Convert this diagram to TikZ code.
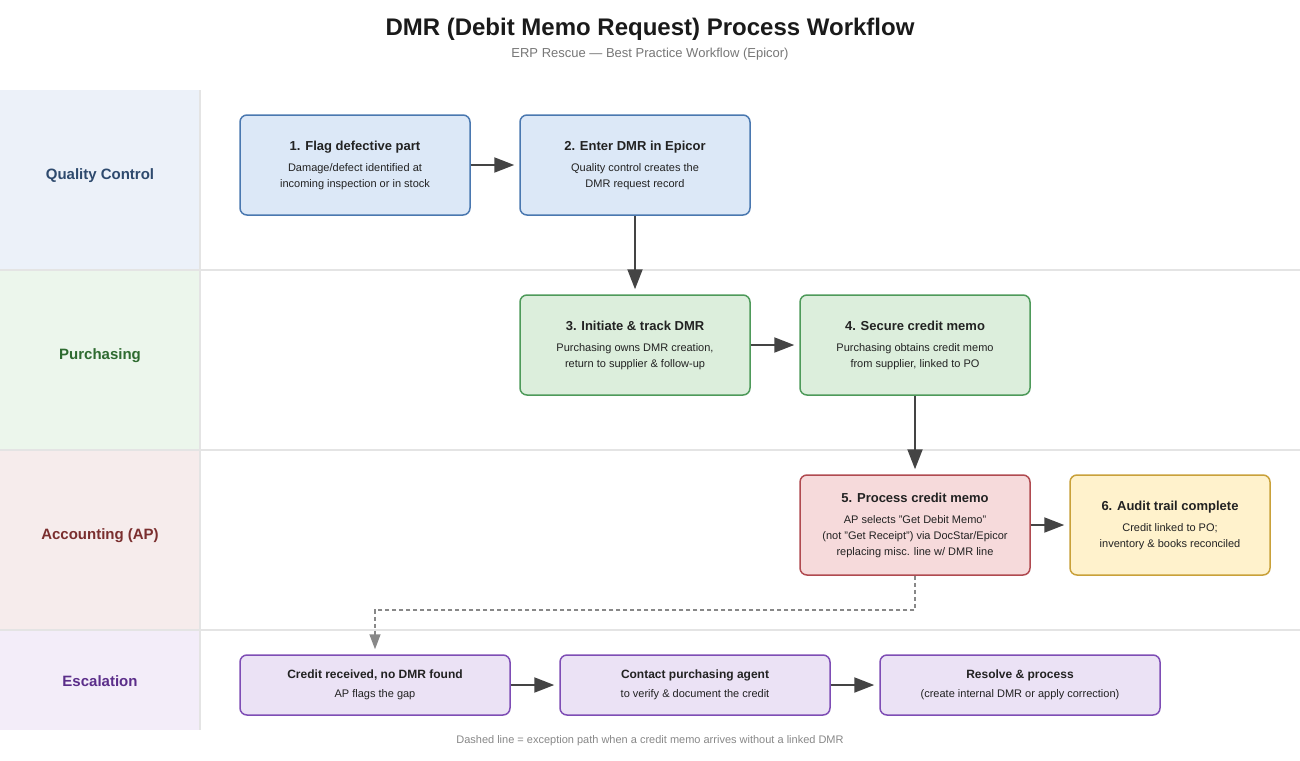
\documentclass[tikz,border=0pt]{standalone}
\usepackage{fontspec}
\setmainfont{Liberation Sans}
\usetikzlibrary{arrows.meta}
\definecolor{laneQC}{HTML}{ECF1F9}
\definecolor{lanePU}{HTML}{ECF6EC}
\definecolor{laneAC}{HTML}{F6ECEC}
\definecolor{laneES}{HTML}{F3EDF9}
\definecolor{sepline}{HTML}{E4E4E4}
\definecolor{txtQC}{HTML}{2E4A6E}
\definecolor{txtPU}{HTML}{2E6B30}
\definecolor{txtAC}{HTML}{7A2E2E}
\definecolor{txtES}{HTML}{5B2E8A}
\definecolor{fillB}{HTML}{DCE8F7}
\definecolor{drawB}{HTML}{4A78B0}
\definecolor{fillG}{HTML}{DCEEDC}
\definecolor{drawG}{HTML}{4E9A5A}
\definecolor{fillR}{HTML}{F6DADB}
\definecolor{drawR}{HTML}{B04A50}
\definecolor{fillY}{HTML}{FFF2CC}
\definecolor{drawY}{HTML}{C9A13A}
\definecolor{fillP}{HTML}{EBE2F5}
\definecolor{drawP}{HTML}{7E4DB5}
\definecolor{arr}{HTML}{444444}
\definecolor{dash}{HTML}{888888}
\definecolor{titletxt}{HTML}{1A1A1A}
\definecolor{subtxt}{HTML}{777777}
\definecolor{bodytxt}{HTML}{222222}
\tikzset{
  lanelabel/.style={font=\fontsize{15}{18}\selectfont\bfseries},
  stepbox/.style={rounded corners=7pt, line width=1.5pt, align=center,
     text=bodytxt, font=\fontsize{11}{16}\selectfont, inner sep=0pt},
  flow/.style={draw=arr, line width=2pt, -{Triangle[length=20pt,width=15pt]}, shorten >=5pt},
  excp/.style={draw=dash, line width=1.5pt, dash pattern=on 4pt off 3pt,
     -{Triangle[length=15pt,width=11pt]}, shorten >=5pt},
}
\newcommand{\btitle}[1]{{\fontsize{13}{16}\selectfont\bfseries #1}\\[5pt]}
\newcommand{\etitle}[1]{{\fontsize{12}{15}\selectfont\bfseries #1}\\[3pt]}
\begin{document}
\begin{tikzpicture}[x=1pt,y=-1pt]
\useasboundingbox (0,0) rectangle (1300,760);
\fill[white] (0,0) rectangle (1300,760);
% lanes
\fill[laneQC] (0,90) rectangle (200,270);
\fill[lanePU] (0,270) rectangle (200,450);
\fill[laneAC] (0,450) rectangle (200,630);
\fill[laneES] (0,630) rectangle (200,730);
\draw[sepline, line width=2pt] (0,270) -- (1300,270);
\draw[sepline, line width=2pt] (0,450) -- (1300,450);
\draw[sepline, line width=2pt] (0,630) -- (1300,630);
\draw[sepline, line width=2pt] (200,90) -- (200,730);
\node[lanelabel, text=txtQC] (lqc) at (100,176) {Quality Control};
\node[lanelabel, text=txtPU] (lpu) at (100,356) {Purchasing};
\node[lanelabel, text=txtAC] (lac) at (100,536) {Accounting (AP)};
\node[lanelabel, text=txtES] (les) at (100,681) {Escalation};
% title
\node[font=\fontsize{24}{28}\selectfont\bfseries, text=titletxt] (title) at (650,29) {DMR (Debit Memo Request) Process Workflow};
\node[font=\fontsize{13}{16}\selectfont, text=subtxt] (sub) at (650,54) {ERP Rescue — Best Practice Workflow (Epicor)};
% boxes
\node[stepbox, fill=fillB, draw=drawB, minimum width=230pt, minimum height=100pt] (b1) at (355,165)
  {\btitle{1. Flag defective part}Damage/defect identified at\\incoming inspection or in stock};
\node[stepbox, fill=fillB, draw=drawB, minimum width=230pt, minimum height=100pt] (b2) at (635,165)
  {\btitle{2. Enter DMR in Epicor}Quality control creates the\\DMR request record};
\node[stepbox, fill=fillG, draw=drawG, minimum width=230pt, minimum height=100pt] (b3) at (635,345)
  {\btitle{3. Initiate \& track DMR}Purchasing owns DMR creation,\\return to supplier \& follow-up};
\node[stepbox, fill=fillG, draw=drawG, minimum width=230pt, minimum height=100pt] (b4) at (915,345)
  {\btitle{4. Secure credit memo}Purchasing obtains credit memo\\from supplier, linked to PO};
\node[stepbox, fill=fillR, draw=drawR, minimum width=230pt, minimum height=100pt] (b5) at (915,525)
  {\btitle{5. Process credit memo}AP selects "Get Debit Memo"\\(not "Get Receipt") via DocStar/Epicor\\replacing misc. line w/ DMR line};
\node[stepbox, fill=fillY, draw=drawY, minimum width=200pt, minimum height=100pt] (b6) at (1170,525)
  {\btitle{6. Audit trail complete}Credit linked to PO;\\inventory \& books reconciled};
\node[stepbox, fill=fillP, draw=drawP, minimum width=270pt, minimum height=60pt] (e1) at (375,685)
  {\etitle{Credit received, no DMR found}AP flags the gap};
\node[stepbox, fill=fillP, draw=drawP, minimum width=270pt, minimum height=60pt] (e2) at (695,685)
  {\etitle{Contact purchasing agent}to verify \& document the credit};
\node[stepbox, fill=fillP, draw=drawP, minimum width=280pt, minimum height=60pt] (e3) at (1020,685)
  {\etitle{Resolve \& process}(create internal DMR or apply correction)};
% connectors
\draw[flow] (b1) -- (b2);
\draw[flow] (b2) -- (b3);
\draw[flow] (b3) -- (b4);
\draw[flow] (b4) -- (b5);
\draw[flow] (b5) -- (b6);
\draw[flow] (e1) -- (e2);
\draw[flow] (e2) -- (e3);
\coordinate (d1) at (915,610);
\coordinate (d2) at (375,610);
\draw[excp] (b5.south) -- (d1) -- (d2) -- (e1.north);
% footnote
\node[font=\fontsize{11}{14}\selectfont, text=dash] (foot) at (650,741) {Dashed line = exception path when a credit memo arrives without a linked DMR};
\end{tikzpicture}
\end{document}
